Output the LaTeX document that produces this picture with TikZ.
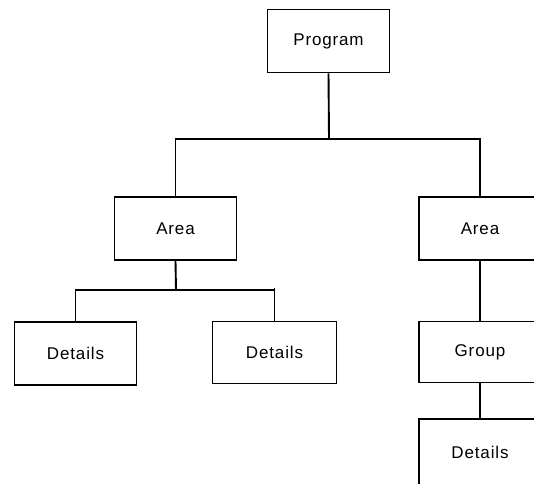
\documentclass[tikz,border=0pt]{standalone}
\usepackage{fontspec}
\setmainfont[LetterSpace=5]{Liberation Sans}
\begin{document}
\begin{tikzpicture}[x=1pt,y=-1pt,
  box/.style={draw=black,line width=1.9pt,fill=white,inner sep=0pt,
    minimum width=122pt,minimum height=63pt,
    font=\fontsize{17}{20}\selectfont},
  link/.style={draw=black,line width=1.9pt}]
\useasboundingbox (0,0) rectangle (534,483);
\clip (0,0) rectangle (534,483);

% top level
\node[box] (prog) at (328.5,41) {Program};

% second level
\node[box] (areaL) at (175.5,228.5) {Area};
\node[box] (areaR) at (480,228.5) {Area};

% leaves under the left area
\node[box] (detA) at (75.5,353.5) {Details};
\node[box,minimum width=124pt,minimum height=62pt] (detB) at (274.5,352.5) {Details};

% chain under the right area
\node[box,minimum height=61pt] (group) at (480,352) {Group};
\node[box,minimum height=66pt] (detC) at (480,452) {Details};

% connectors
\coordinate (busTop) at (329,139);
\coordinate (busLow) at (176,290);
\draw[link] (prog.south) -- (busTop);
\draw[link] (areaL.north) |- (busTop) -| (areaR.north);
\draw[link] (areaL.south) -- (busLow);
\draw[link] (detA.north) |- (busLow) -| (detB.north);
\draw[link] (detB.north) -- (detB.north |- 0,288);
\draw[link] (areaR.south) -- (group.north);
\draw[link] (group.south) -- (detC.north);
\end{tikzpicture}
\end{document}
